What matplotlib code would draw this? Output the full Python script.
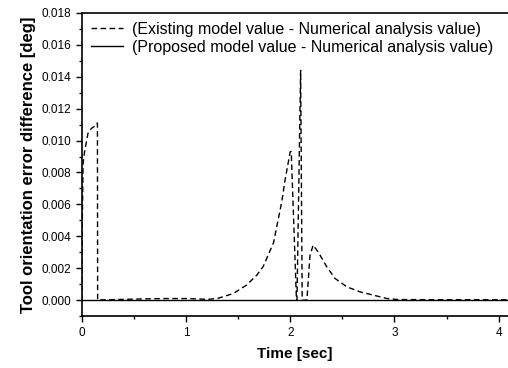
import numpy as np
import matplotlib
matplotlib.use("Agg")
import matplotlib.pyplot as plt
from matplotlib.ticker import MultipleLocator

plt.rcParams['font.family'] = ['Liberation Sans', 'DejaVu Sans']

# Existing model - numerical analysis
t_exist = [0.0, 0.004, 0.0125, 0.029, 0.06, 0.093, 0.125, 0.15, 0.152,
           0.2, 0.4, 0.6, 0.8, 1.0, 1.1, 1.2, 1.3, 1.455, 1.58, 1.68, 1.74,
           1.84, 1.92, 1.95, 2.0, 2.01, 2.06, 2.065, 2.10, 2.115, 2.12,
           2.16, 2.19, 2.22, 2.27, 2.35, 2.43, 2.545, 2.67, 2.80, 2.93,
           3.03, 3.3, 3.6, 4.1]
v_exist = [0.0, 0.0045, 0.0086, 0.0094, 0.01046, 0.01077, 0.0109, 0.0111, 0.0,
           0.00002, 0.00005, 0.00008, 0.0001, 0.0001, 0.00008, 0.00005, 0.0001,
           0.00042, 0.00094, 0.00157, 0.0021, 0.0036, 0.0062, 0.0075, 0.0093,
           0.0093, 0.0, 0.0, 0.0144, 0.0, 0.0, 0.0, 0.0028, 0.00345, 0.0030,
           0.0021, 0.00136, 0.00083, 0.00052, 0.00031, 0.0001, 0.00004,
           0.00003, 0.00003, 0.00003]

# Proposed model - numerical analysis
t_prop = [0.0, 1.0, 2.0, 3.0, 4.1]
v_prop = [0.0, 0.0, 0.0, 0.0, 0.0]

fig = plt.figure(figsize=(5.08, 3.68), dpi=100)
ax = fig.add_axes([0.161, 0.141, 0.839, 0.824])

ax.plot(t_exist, v_exist, color='black', lw=1.0, ls=(0, (4, 2.5)),
        label='(Existing model value - Numerical analysis value)')
ax.plot(t_prop, v_prop, color='black', lw=1.0,
        label='(Proposed model value - Numerical analysis value)')

ax.set_xlim(0, 4.09)
ax.set_ylim(-0.001, 0.018)
ax.xaxis.set_major_locator(MultipleLocator(1))
ax.xaxis.set_minor_locator(MultipleLocator(0.5))
ax.yaxis.set_major_locator(MultipleLocator(0.002))
ax.yaxis.set_minor_locator(MultipleLocator(0.001))
ax.yaxis.set_major_formatter(plt.FormatStrFormatter('%.3f'))
ax.tick_params(which='major', direction='out', length=4, width=1, labelsize=8.5)
ax.tick_params(which='minor', direction='out', length=2.5, width=1)
ax.spines['right'].set_visible(False)
for s in ['left', 'bottom', 'top']:
    ax.spines[s].set_linewidth(1.2)

ax.set_xlabel('Time [sec]', fontsize=11, fontweight='bold', labelpad=6)
ax.set_ylabel('Tool orientation error difference [deg]', fontsize=12,
              fontweight='bold', labelpad=4)

ax.legend(loc='upper left', frameon=False, fontsize=11.5, handlelength=2.0,
          handletextpad=0.6, borderaxespad=0.15, labelspacing=0.2)

fig.savefig('out.png', dpi=100)
